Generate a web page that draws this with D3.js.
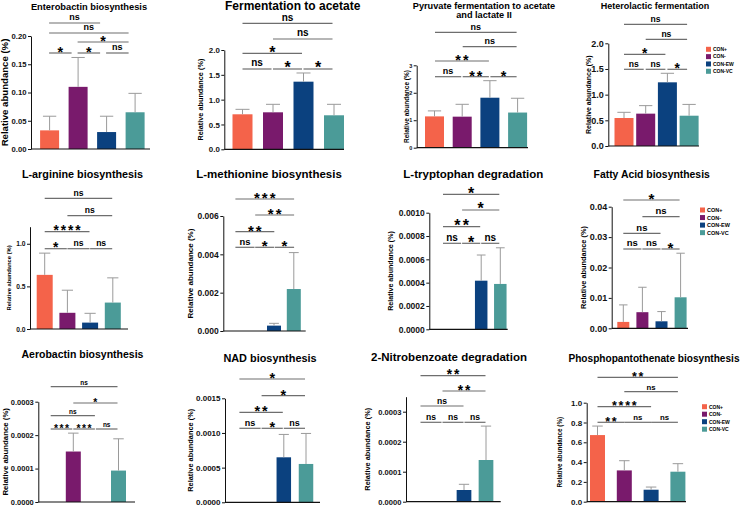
<!DOCTYPE html>
<html>
<head><meta charset="utf-8"/>
<script src="https://cdn.jsdelivr.net/npm/d3@7"></script>
<style>
body{margin:0;background:#fff;}
svg{display:block;font-family:"Liberation Sans",Arial,sans-serif;}
</style>
</head>
<body>
<div id="fig"></div>
<script>

// groups and colours
var groups = ["CON+", "CON-", "CON-EW", "CON-VC"];
var colors = ["#f4634a", "#791a6c", "#0b417f", "#4b9b98"];

var titles = [
    "Enterobactin biosynthesis",
    "Fermentation to acetate",
    "Pyruvate fermentation to acetate|and lactate II",
    "Heterolactic fermentation",
    "L-arginine biosynthesis",
    "L-methionine biosynthesis",
    "L-tryptophan degradation",
    "Fatty Acid biosynthesis",
    "Aerobactin biosynthesis",
    "NAD biosynthesis",
    "2-Nitrobenzoate degradation",
    "Phosphopantothenate biosynthesis"
];

// mean relative abundance per group
var means = [
    [0.033, 0.110, 0.030, 0.065],
    [0.705, 0.745, 1.362, 0.685],
    [1.14, 1.13, 1.82, 1.28],
    [0.545, 0.63, 1.24, 0.59],
    [0.635, 0.19, 0.075, 0.31],
    [0, 0, 0.00028, 0.00219],
    [0, 0, 0.000417, 0.000389],
    [0.0021, 0.0053, 0.0023, 0.0102],
    [0, 0.000151, 0, 0.000094],
    [0, 0, 0.000649, 0.000553],
    [0, 0, 0.000039, 0.000139],
    [0.673, 0.316, 0.121, 0.303]
];

// upper error (SD)
var errs = [
    [0.025, 0.052, 0.028, 0.0335],
    [0.10, 0.161, 0.175, 0.221],
    [0.20, 0.45, 0.62, 0.52],
    [0.111, 0.156, 0.176, 0.22],
    [0.255, 0.265, 0.109, 0.29],
    [0, 0, 0.00012, 0.0019],
    [0, 0, 0.00022, 0.00031],
    [0.0056, 0.0082, 0.0032, 0.0145],
    [0, 0.000055, 0, 0.000095],
    [0, 0, 0.00033, 0.00044],
    [0, 0, 0.000019, 0.000113],
    [0.091, 0.098, 0.027, 0.081]
];

var yMax = [0.2, 2, 3, 2, 1.2, 0.006, 0.001, 0.04, 0.0003, 0.0015, 0.00035, 1.0];
var yTicks = [
    [0, 0.05, 0.10, 0.15, 0.20],
    [0, 0.5, 1.0, 1.5, 2.0],
    [0, 1, 2, 3],
    [0, 0.5, 1.0, 1.5, 2.0],
    [0, 0.5, 1.0],
    [0, 0.002, 0.004, 0.006],
    [0, 0.0002, 0.0004, 0.0006, 0.0008, 0.0010],
    [0, 0.01, 0.02, 0.03, 0.04],
    [0, 0.0001, 0.0002, 0.0003],
    [0, 0.0005, 0.0010, 0.0015],
    [0, 0.0001, 0.0002, 0.0003],
    [0, 0.2, 0.4, 0.6, 0.8, 1.0]
];
var tickFmt = [".2f", ".1f", "d", ".1f", ".1f", ".3f", ".4f", ".2f", ".4f", ".4f", ".4f", ".1f"];

// comparisons [i, j, label], listed bottom to top (first three share the lowest row)
var sig = [
    [[0,1,"*"],[1,2,"*"],[2,3,"ns"],[1,3,"*"],[0,3,"ns"],[0,2,"ns"]],
    [[0,1,"ns"],[1,2,"*"],[2,3,"*"],[0,2,"*"],[1,3,"ns"],[0,3,"ns"]],
    [[0,1,"ns"],[1,2,"**"],[2,3,"*"],[0,2,"**"],[1,3,"ns"],[0,3,"ns"]],
    [[0,1,"ns"],[1,2,"ns"],[2,3,"*"],[0,2,"*"],[1,3,"ns"],[0,3,"ns"]],
    [[0,1,"*"],[1,2,"ns"],[2,3,"ns"],[0,2,"****"],[1,3,"ns"],[0,3,"ns"]],
    [[0,1,"ns"],[1,2,"*"],[2,3,"*"],[0,2,"**"],[1,3,"**"],[0,3,"***"]],
    [[0,1,"ns"],[1,2,"*"],[2,3,"ns"],[0,2,"**"],[1,3,"*"],[0,3,"*"]],
    [[0,1,"ns"],[1,2,"ns"],[2,3,"*"],[0,2,"ns"],[1,3,"ns"],[0,3,"*"]],
    [[0,1,"***"],[1,2,"***"],[2,3,"ns"],[0,2,"ns"],[1,3,"*"],[0,3,"ns"]],
    [[0,1,"ns"],[1,2,"*"],[2,3,"ns"],[0,2,"**"],[1,3,"*"],[0,3,"*"]],
    [[0,1,"ns"],[1,2,"ns"],[2,3,"ns"],[0,2,"ns"],[1,3,"**"],[0,3,"**"]],
    [[0,1,"**"],[1,2,"ns"],[2,3,"ns"],[0,2,"****"],[1,3,"ns"],[0,3,"**"]]
];

var yLabel = "Relative abundance (%)";

// panel geometry (pixels)
var layout = [
    {ax:31,    top:36,    bot:149,   end:150,   c1:49.6,  step:28.5, bw:19,   a:-0.5, b:-6.5, br:[53,42,33,23],          tx:89,    ty:[9.5],      ts:9.3,  tk:7.7, lx:5,     ls:9.6, ss:9},
    {ax:224.3, top:50,    bot:149.3, end:344,   c1:242.5, step:30.5, bw:20,   a:0,    b:-1.5, br:[69,53.3,39,23.3],      tx:292.7, ty:[10],       ts:12,   tk:7.9, lx:200,   ls:7.3, ss:10},
    {ax:416.7, top:65.3,  bot:147.7, end:528,   c1:434.5, step:27.7, bw:19,   a:0.5,  b:-1,   br:[76.7,61,46.7,32.3],    tx:484,   ty:[9.3,18.3], ts:9.2,  tk:5.5, lx:406.7, ls:6.5, ss:9},
    {ax:608.3, top:43.3,  bot:146,   end:699,   c1:624,   step:21.7, bw:19,   a:0,    b:-2,   br:[69.3,54.3,39.3,24.3],  tx:655,   ty:[8.5],      ts:9,    tk:9,   lx:588.3, ls:7,   ss:8.6},
    {ax:30,    top:226.7, bot:329,   end:128,   c1:44.7,  step:22.7, bw:16,   a:0,    b:-0.6, br:[248.7,231.7,215.7,198.3], tx:82.5, ty:[177.7], ts:10.8, tk:6.7, lx:9.3,   ls:5.8, ss:8.6},
    {ax:223.3, top:216,   bot:331,   end:305.7, c1:234.4, step:19.8, bw:14,   a:1,    b:0.3,  br:[247.3,231.7,215,199],  tx:269,   ty:[178.3],    ts:11.5, tk:8.5, lx:190,   ls:8,   ss:9.4},
    {ax:429.3, top:212.7, bot:329.3, end:507.7, c1:443,   step:19.1, bw:12.5, a:0,    b:-1,   br:[243.3,226.7,210,194.3], tx:473.3, ty:[177.7],   ts:11.5, tk:8.5, lx:390,   ls:7.1, ss:10},
    {ax:611.7, top:206.7, bot:328.3, end:688,   c1:623.3, step:19.1, bw:12,   a:0,    b:-1,   br:[249,233.3,216.7,200],  tx:651.7, ty:[178.3],    ts:10.4, tk:9,   lx:583.3, ls:7.4, ss:9.5},
    {ax:38.3,  top:401.7, bot:502,   end:135,   c1:50.7,  step:22.6, bw:15,   a:0,    b:-1,   br:[429,415.7,403,386.7],  tx:82.5,  ty:[358.3],    ts:10.5, tk:7.5, lx:5,     ls:7.8, ss:6.5},
    {ax:225,   top:398.3, bot:502.3, end:320,   c1:239.4, step:22.2, bw:14.5, a:0,    b:-1,   br:[428.3,412.3,395.7,379], tx:270,   ty:[361.7],   ts:10.9, tk:8,   lx:190,   ls:7.4, ss:9},
    {ax:406,   top:396.7, bot:501.7, end:500.7, c1:420,   step:22,   bw:14.7, a:0.5,  b:-0.5, br:[422.3,406,391,375.7],  tx:449,   ty:[361],      ts:11.5, tk:7.6, lx:367,   ls:7.4, ss:8.6},
    {ax:586.7, top:402.7, bot:501.7, end:686,   c1:597.5, step:26.8, bw:15,   a:0,    b:0,    br:[422.3,406.7,391.7,377.3], tx:654, ty:[362.3],    ts:10.1, tk:8,   lx:560,   ls:6.3, ss:7.8}
];

var legends = [
    {x:706, y:49.3,  dy:7.33, fs:5},
    {x:700, y:210,   dy:7.55, fs:5.5},
    {x:702, y:406.7, dy:7.5,  fs:5}
];

var svg = d3.select("#fig").append("svg")
    .attr("width", 740)
    .attr("height", 506);

layout.forEach(function(L, p) {
    var g = svg.append("g").attr("class", "panel");

    var y = d3.scaleLinear().domain([0, yMax[p]]).range([L.bot, L.top]);
    var pad = 1 - L.bw / L.step;
    var x = d3.scaleBand().domain(groups)
        .range([L.c1 - L.step / 2, L.c1 + L.step * 3.5])
        .paddingInner(pad).paddingOuter(pad / 2);
    var cx = function(i) { return x(groups[i]) + x.bandwidth() / 2; };

    // bars
    g.selectAll(".bar").data(means[p]).enter().append("rect")
        .attr("x", function(d, i) { return x(groups[i]); })
        .attr("width", x.bandwidth())
        .attr("y", function(d) { return y(d); })
        .attr("height", function(d) { return y(0) - y(d); })
        .attr("fill", function(d, i) { return colors[i]; });

    // error whiskers (upper only)
    var cap = x.bandwidth() * 0.35;
    means[p].forEach(function(m, i) {
        if (m <= 0) return;
        var top = y(m + errs[p][i]);
        g.append("line").attr("x1", cx(i)).attr("x2", cx(i))
            .attr("y1", y(m)).attr("y2", top)
            .attr("stroke", "#9a9a9a").attr("stroke-width", 1);
        g.append("line").attr("x1", cx(i) - cap).attr("x2", cx(i) + cap)
            .attr("y1", top).attr("y2", top)
            .attr("stroke", "#9a9a9a").attr("stroke-width", 1);
    });

    // axes
    var yAxis = d3.axisLeft(y).tickValues(yTicks[p])
        .tickFormat(d3.format(tickFmt[p]))
        .tickSize(3).tickSizeOuter(0).tickPadding(1.5);
    var ya = g.append("g").attr("transform", "translate(" + L.ax + ",0)").call(yAxis);
    ya.selectAll("text").style("font-size", L.tk + "px").style("font-weight", "bold").attr("fill", "#111");
    ya.selectAll("path,line").attr("stroke", "#111").attr("stroke-width", 1);

    g.append("line").attr("x1", L.ax).attr("x2", L.end)
        .attr("y1", y(0)).attr("y2", y(0))
        .attr("stroke", "#111").attr("stroke-width", 1.2);

    g.append("text")
        .attr("transform", "translate(" + (L.lx + L.ls * 0.36) + "," + ((L.top + L.bot) / 2) + ") rotate(-90)")
        .attr("text-anchor", "middle")
        .style("font-size", L.ls + "px")
        .style("font-weight", "bold")
        .text(yLabel);

    // title
    titles[p].split("|").forEach(function(t, k) {
        g.append("text").attr("x", L.tx).attr("y", L.ty[k])
            .attr("text-anchor", "middle")
            .style("font-size", L.ts + "px").style("font-weight", "bold")
            .text(t);
    });

    // significance brackets
    sig[p].forEach(function(s, k) {
        var row = k < 3 ? 0 : k - 2;
        var ly = L.br[row];
        var x1 = cx(s[0]) + L.a, x2 = cx(s[1]) + L.b;
        g.append("line").attr("x1", x1).attr("x2", x2)
            .attr("y1", ly).attr("y2", ly)
            .attr("stroke", "#6e6e6e").attr("stroke-width", 1.2);
        var star = s[2].indexOf("*") >= 0;
        var fs = star ? L.ss * 1.6 : L.ss;
        var sp = star ? L.ss * 0.22 : 0;
        g.append("text")
            .attr("x", (x1 + x2) / 2 + sp / 2)
            .attr("y", star ? ly - L.ss * 0.25 + fs * 0.43 : ly - L.ss * 0.28)
            .attr("text-anchor", "middle")
            .style("font-size", fs + "px").style("font-weight", "bold")
            .style("letter-spacing", sp + "px")
            .text(s[2]);
    });
});

// legends
legends.forEach(function(l) {
    var lg = svg.append("g").attr("class", "legend");
    groups.forEach(function(gname, i) {
        lg.append("rect").attr("x", l.x).attr("y", l.y + i * l.dy - 2.5)
            .attr("width", 5).attr("height", 5).attr("fill", colors[i]);
        lg.append("text").attr("x", l.x + 7).attr("y", l.y + i * l.dy + l.fs * 0.36)
            .style("font-size", l.fs + "px").style("font-weight", "bold")
            .text(gname);
    });
});

</script>
</body>
</html>
